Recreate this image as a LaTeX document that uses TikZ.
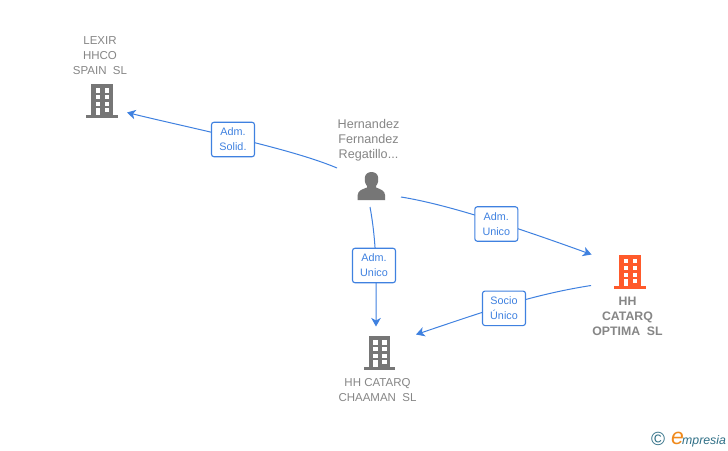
\documentclass[tikz,border=0pt]{standalone}
\usepackage{fontspec}
\setmainfont{Liberation Sans}
\usetikzlibrary{arrows.meta}
\definecolor{linkblue}{HTML}{3F81E0}
\definecolor{icongray}{HTML}{767676}
\definecolor{textgray}{HTML}{868686}
\definecolor{iconorange}{HTML}{FF5A2B}
\definecolor{logoteal}{HTML}{2F6F86}
\definecolor{logoorange}{HTML}{F08A1D}
\tikzset{
  link/.style={draw=linkblue,line width=1pt,-{Stealth[length=8.5pt,width=9.5pt,inset=2.4pt]}},
  tagbox/.style={draw=linkblue,line width=1.1pt,fill=white,rounded corners=2.5pt,text=linkblue,font=\fontsize{10.8}{15}\selectfont,align=center,minimum width=43pt,minimum height=34.5pt,inner sep=0pt},
  nametext/.style={text=textgray,font=\fontsize{11.5}{15}\selectfont,align=center,inner sep=0pt},
  pics/building/.style={code={
    \fill[#1] (-10.8,-17) rectangle (10.8,14.2);
    \fill[#1] (-15.8,14.2) rectangle (15.8,17);
    \foreach \yy in {-12.7,-6,0.7}{
      \fill[white] (-6.3,\yy) rectangle (-2,\yy+4.3);
      \fill[white] (2.7,\yy) rectangle (7.3,\yy+4.3);
    }
    \fill[white] (-6.3,6.7) rectangle (-2,14.2);
    \fill[white] (2.7,6.7) rectangle (7.3,11);
  }}
}
\begin{document}
\begin{tikzpicture}[x=1pt,y=-1pt]
\useasboundingbox (0,0) rectangle (728,450);
\fill[white] (0,0) rectangle (728,450);

% icons
\pic at (102,101) {building=icongray};
\pic at (379.5,353) {building=icongray};
\pic at (630,271.8) {building=iconorange};
\fill[icongray] (357.7,200) -- (357.7,195) .. controls (358,190.5) and (362,189.5) .. (367,187.5)
  -- (367,186) .. controls (364.5,183) and (364.8,180) .. (364.8,178)
  .. controls (365,170) and (378,170) .. (378.2,178)
  .. controls (378.2,180) and (378.5,183) .. (376,186)
  -- (376,187.5) .. controls (381,189.5) and (384.7,190.5) .. (385,195) -- (385,200) -- cycle;

% texts
\node[nametext] (lexir) at (100,55.8) {LEXIR\\HHCO\\SPAIN\ \ SL};
\node[nametext,font=\fontsize{12.6}{15}\selectfont] (person) at (368.5,140) {Hernandez\\Fernandez\\Regatillo...};
\node[nametext,font=\fontsize{12.3}{15}\selectfont\bfseries] (optima) at (627.5,316) {HH\\CATARQ\\OPTIMA\ \ SL};
\node[nametext] (chaaman) at (377.5,390.3) {HH CATARQ\\CHAAMAN\ \ SL};

% connector ends
\coordinate (p1) at (337,168);
\coordinate (e1) at (127,112.5);
\coordinate (p2) at (401,197);
\coordinate (e2) at (591.5,254.5);
\coordinate (p3) at (370,207);
\coordinate (e3) at (376,326.5);
\coordinate (o4) at (591,285.5);
\coordinate (e4) at (416,334.5);

% labels
\coordinate (l1) at (233,139.5);
\coordinate (l2) at (496.3,224);
\coordinate (l3) at (374,265.5);
\coordinate (l4) at (504,308.3);

% connectors
\draw[link] (p1) .. controls (290,148) and (190,128) .. (e1);
\draw[link] (p2) .. controls (445,204) and (510,225) .. (e2);
\draw[link] (p3) .. controls (378,250) and (376,290) .. (e3);
\draw[link] (o4) .. controls (530,295) and (480,313) .. (e4);

\node[tagbox] (t1) at (l1) {Adm.\\Solid.};
\node[tagbox] (t2) at (l2) {Adm.\\Unico};
\node[tagbox] (t3) at (l3) {Adm.\\Unico};
\node[tagbox] (t4) at (l4) {Socio\\Único};

% logo
\node[inner sep=0pt,text=logoteal,font=\fontsize{19}{19}\selectfont] (copy) at (658,438.5) {©};
\node[inner sep=0pt,anchor=base west,text=logoorange,font=\fontsize{23}{23}\selectfont\itshape] (logoe) at (671,444) {e};
\node[inner sep=0pt,anchor=base west,text=logoteal,font=\fontsize{12.3}{12.3}\selectfont\itshape] (logot) at (682,444) {mpresia};
\end{tikzpicture}
\end{document}
